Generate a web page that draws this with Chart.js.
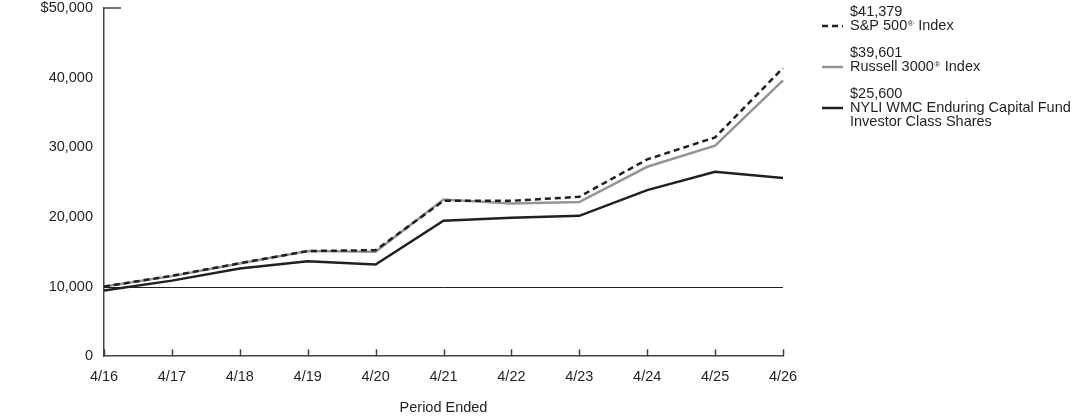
<!DOCTYPE html>
<html>
<head>
<meta charset="utf-8">
<script src="https://cdn.jsdelivr.net/npm/chart.js@4.4.1/dist/chart.umd.min.js"></script>
<style>
  html, body { margin: 0; padding: 0; background: #fff; }
  #wrap { width: 1092px; height: 417px; }
</style>
</head>
<body>
<div id="wrap"><canvas id="chart"></canvas></div>
<script>
const periods = ['4/16', '4/17', '4/18', '4/19', '4/20', '4/21', '4/22', '4/23', '4/24', '4/25', '4/26'];
const sp500 = [10000, 11550, 13350, 15100, 15230, 22310, 22310, 22890, 28260, 31420, 41379];
const russell = [10000, 11500, 13320, 15090, 14990, 22510, 21940, 22130, 27200, 30220, 39601];
const fund = [9450, 10850, 12600, 13650, 13170, 19440, 19870, 20160, 23850, 26480, 25600];
const yTicks = [0, 10000, 20000, 30000, 40000, 50000];

const INK = '#231f20';
const GRAY = '#929497';
const FONT = '"Liberation Sans", Arial, sans-serif';
const FS = 14.5;

const legendItems = [
    { value: '$41,379', name: ['S&P 500', '®', ' Index'], color: INK, dash: [6, 4] },
    { value: '$39,601', name: ['Russell 3000', '®', ' Index'], color: GRAY, dash: [] },
    { value: '$25,600', name: ['NYLI WMC Enduring Capital Fund'], extra: 'Investor Class Shares', color: INK, dash: [] }
];

// axis ticks pointing inward, the $10,000 baseline, and the side legend
const decor = {
    id: 'decor',
    afterDatasetsDraw(chart) {
        const { ctx, chartArea: a, scales: { y } } = chart;
        ctx.save();
        ctx.strokeStyle = INK;
        ctx.lineWidth = 1;
        const base = Math.round(y.getPixelForValue(10000)) + 0.5;
        ctx.beginPath();
        ctx.moveTo(a.left, base);
        ctx.lineTo(a.right, base);
        ctx.stroke();
        ctx.restore();
    },
    afterDraw(chart) {
        const { ctx, chartArea: a, scales: { x, y } } = chart;
        ctx.save();
        ctx.strokeStyle = '#444';
        ctx.lineWidth = 1.5;
        ctx.beginPath();
        periods.forEach((p, i) => {
            const px = Math.round(x.getPixelForValue(i)) + 0.5;
            ctx.moveTo(px, a.bottom);
            ctx.lineTo(px, a.bottom - 7);
        });
        const top = y.getPixelForValue(50000);
        ctx.moveTo(a.left, top);
        ctx.lineTo(a.left + 17, top);
        ctx.stroke();

        // legend
        let ly = 12;
        const lx = 822;
        const tx = 850;
        ctx.textBaseline = 'middle';
        ctx.fillStyle = INK;
        legendItems.forEach(item => {
            ctx.font = FS + 'px ' + FONT;
            ctx.fillText(item.value, tx, ly);
            const ny = ly + 14;
            let cx = tx;
            item.name.forEach(part => {
                if (part === '®') {
                    ctx.font = '8px ' + FONT;
                    ctx.fillText(part, cx + 0.5, ny - 2);
                    cx += ctx.measureText(part).width + 1;
                } else {
                    ctx.font = FS + 'px ' + FONT;
                    ctx.fillText(part, cx, ny);
                    cx += ctx.measureText(part).width;
                }
            });
            ctx.font = FS + 'px ' + FONT;
            if (item.extra) ctx.fillText(item.extra, tx, ny + 14);
            ctx.strokeStyle = item.color;
            ctx.lineWidth = 2.5;
            ctx.setLineDash(item.dash);
            ctx.beginPath();
            ctx.moveTo(lx, ny);
            ctx.lineTo(lx + 21, ny);
            ctx.stroke();
            ctx.setLineDash([]);
            ly += 41;
        });
        ctx.restore();
    }
};

new Chart(document.getElementById('chart'), {
    type: 'line',
    data: {
        labels: periods,
        datasets: [
            { label: 'S&P 500® Index', data: sp500, borderColor: INK, borderDash: [6, 4], borderWidth: 2.5 },
            { label: 'Russell 3000® Index', data: russell, borderColor: GRAY, borderWidth: 2.5 },
            { label: 'NYLI WMC Enduring Capital Fund Investor Class Shares', data: fund, borderColor: INK, borderWidth: 2.5 }
        ]
    },
    options: {
        responsive: true,
        maintainAspectRatio: false,
        animation: false,
        events: [],
        elements: { point: { radius: 0 }, line: { tension: 0 } },
        layout: { padding: { top: 8, right: 309, left: 0, bottom: 0 } },
        plugins: { legend: { display: false }, tooltip: { enabled: false } },
        scales: {
            x: {
                offset: false,
                grid: { display: false, drawTicks: false },
                border: { display: true, color: '#444', width: 1.5 },
                ticks: { color: INK, font: { family: FONT, size: FS }, padding: 12, maxRotation: 0, autoSkip: false },
                title: { display: true, text: 'Period Ended', color: INK, font: { family: FONT, size: FS }, padding: { top: 2, bottom: 0 } }
            },
            y: {
                min: 0,
                max: 50000,
                afterBuildTicks(scale) { scale.ticks = yTicks.map(v => ({ value: v })); },
                afterFit(scale) { scale.width = 104; scale.paddingTop = 0; scale.paddingBottom = 0; },
                grid: { display: false, drawTicks: false },
                border: { display: true, color: '#444', width: 1.5 },
                ticks: {
                    color: INK,
                    font: { family: FONT, size: FS },
                    padding: 11,
                    callback: v => (v === 50000 ? '$' : '') + v.toLocaleString('en-US')
                }
            }
        }
    },
    plugins: [decor]
});
</script>
</body>
</html>
